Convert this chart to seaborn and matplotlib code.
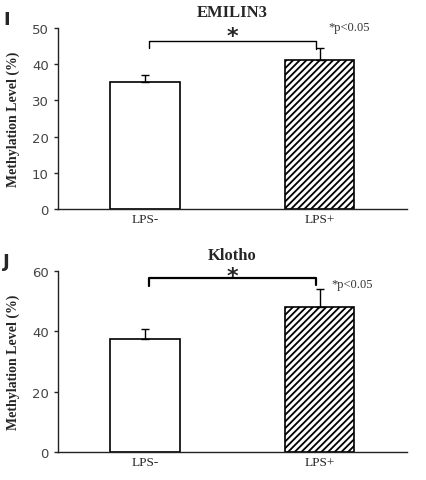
import numpy as np
import pandas as pd
import matplotlib
matplotlib.use("Agg")
import matplotlib.pyplot as plt
import seaborn as sns

groups = ["LPS-", "LPS+"]
emilin_vals = [35.0, 41.2]
emilin_err = [2.0, 3.2]
klotho_vals = [37.4, 48.2]
klotho_err = [3.4, 5.8]

sns.set_style("white")
plt.rcParams["hatch.linewidth"] = 1.3

fig = plt.figure(figsize=(4.26, 4.81), dpi=100)
ax1 = fig.add_axes([0.136, 0.5634, 0.819, 0.3763])
ax2 = fig.add_axes([0.136, 0.0582, 0.819, 0.3763])

serif = "Liberation Serif"


def panel(ax, vals, errs, title, ymax, step, letter, letter_y, br_y, br_leg,
          star_y, p_xy, lw):
    df = pd.DataFrame({"group": groups, "value": vals})
    sns.barplot(data=df, x="group", y="value", ax=ax, width=0.4,
                color="white", edgecolor="black", linewidth=1.2, errorbar=None)
    ax.patches[1].set_hatch("/////")
    x = np.arange(len(groups))
    ax.errorbar(x, vals, yerr=[np.zeros(len(errs)), errs], fmt="none",
                ecolor="black", elinewidth=1.0, capsize=3, capthick=1.0)
    ax.set_xlim(-0.5, 1.5)
    ax.set_ylim(0, ymax)
    ax.set_yticks(np.arange(0, ymax + 1, step))
    ax.tick_params(axis="y", labelsize=9.5, labelcolor="#444444", length=3,
                   left=True, width=1)
    ax.set_xticks(x)
    ax.set_xticklabels(groups, fontfamily=serif, fontsize=9.5)
    ax.tick_params(axis="x", length=0, pad=3)
    # small ticks between categories, pointing up
    ax.set_xticks([0.5, 1.5], minor=True)
    ax.tick_params(axis="x", which="minor", direction="in", length=3, width=1)
    for s in ["top", "right"]:
        ax.spines[s].set_visible(False)
    for s in ["left", "bottom"]:
        ax.spines[s].set_color("#222222")
        ax.spines[s].set_linewidth(1.0)
    ax.set_xlabel("")
    ax.set_ylabel("Methylation Level (%)", fontfamily=serif, fontweight="bold",
                  fontsize=10, labelpad=9)
    ax.set_title(title, fontfamily=serif, fontweight="bold", fontsize=12,
                 pad=9, x=0.5)
    # significance bracket
    ax.plot([0.02, 0.02, 0.98, 0.98], [br_leg[0], br_y, br_y, br_leg[1]],
            color="black", lw=lw, clip_on=False)
    ax.text(0.5, star_y, "*", ha="center", va="center", fontsize=16,
            fontweight="bold", clip_on=False)
    ax.text(p_xy[0], p_xy[1], "*p<0.05", fontfamily=serif, fontsize=9,
            ha="left", va="center", color="#333333")
    fig.text(0.007, letter_y, letter, fontsize=13, fontweight="bold",
             ha="left", va="center")


panel(ax1, emilin_vals, emilin_err, "EMILIN3", 50, 10, "I", 0.958,
      46.4, (44.6, 44.3), 47.8, (1.05, 50.3), 1.0)
panel(ax2, klotho_vals, klotho_err, "Klotho", 60, 20, "J", 0.455,
      57.7, (55.0, 55.2), 58.3, (1.07, 55.8), 1.6)

fig.savefig("out.png", dpi=100)
